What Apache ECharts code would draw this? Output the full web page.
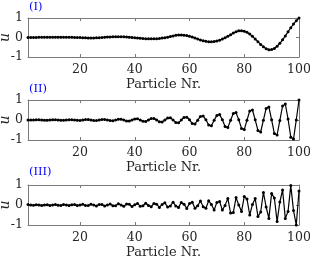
<!DOCTYPE html>
<html><head><meta charset="utf-8">
<script src="https://cdn.jsdelivr.net/npm/echarts@6/dist/echarts.min.js"></script>
<style>html,body{margin:0;padding:0;background:#fff}#c{width:310px;height:258px}</style>
</head><body><div id="c"></div>
<script>
const u1=[0.002,0.003,0.004,0.006,0.008,0.009,0.011,0.012,0.013,0.014,
0.015,0.015,0.015,0.014,0.012,0.01,0.007,0.004,0,-0.004,
-0.012,-0.018,-0.022,-0.022,-0.02,-0.015,-0.008,0.001,0.011,0.02,
0.028,0.034,0.038,0.04,0.039,0.035,0.028,0.018,0.006,-0.008,
-0.022,-0.036,-0.049,-0.059,-0.067,-0.07,-0.068,-0.061,-0.048,-0.03,
-0.01,0.015,0.045,0.08,0.11,0.128,0.13,0.12,0.098,0.066,
0.02,-0.028,-0.077,-0.124,-0.166,-0.198,-0.217,-0.22,-0.206,-0.176,
-0.135,-0.078,-0.01,0.065,0.145,0.225,0.295,0.34,0.35,0.325,
0.265,0.175,0.06,-0.075,-0.215,-0.355,-0.48,-0.575,-0.625,-0.62,
-0.56,-0.45,-0.3,-0.12,0.08,0.29,0.5,0.69,0.86,1.0];
const u2=[-0.005,-0.005,0,0.01,0.01,0,-0.01,-0.01,0,0.01,
0.01,0,-0.01,-0.015,0,0.015,0.015,0,-0.015,-0.02,
0,0.02,0.02,0,-0.02,-0.025,0,0.025,0.03,0,
-0.03,-0.035,0,0.035,0.04,0,-0.045,-0.05,0,0.05,
0.06,0,-0.06,-0.07,0,0.07,0.08,0.005,-0.09,-0.1,
0,0.1,0.11,0.005,-0.12,-0.14,0,0.13,0.14,0.01,
-0.17,-0.2,-0.01,0.18,0.2,0.01,-0.25,-0.29,-0.01,0.23,
0.27,0.01,-0.32,-0.38,-0.01,0.33,0.37,0.01,-0.42,-0.48,
-0.01,0.45,0.5,0.01,-0.52,-0.6,-0.01,0.58,0.65,0.01,
-0.68,-0.75,-0.02,0.7,0.8,0.05,-0.86,-0.95,0,1.0];
const u3=[0.02,-0.005,-0.015,0.015,0.005,-0.02,0.005,0.015,-0.02,-0.005,
0.025,-0.01,-0.02,0.025,0.005,-0.03,0.015,0.02,-0.03,-0.005,
0.035,-0.02,-0.025,0.04,0,-0.045,0.025,0.03,-0.05,0,
0.05,-0.035,-0.035,0.06,0,-0.065,0.05,0.04,-0.08,0.01,
0.08,-0.06,-0.04,0.09,-0.02,-0.09,0.08,0.04,-0.12,0.03,
0.11,-0.1,-0.05,0.14,-0.05,-0.12,0.13,0.04,-0.17,0.07,
0.14,-0.16,-0.04,0.2,-0.09,-0.16,0.21,0.03,-0.25,0.13,
0.17,-0.25,-0.02,0.33,-0.4,-0.38,0.37,0,-0.33,0.42,
0.3,-0.5,0.03,0.33,-0.58,-0.35,0.63,-0.1,-0.67,0.58,
0.35,-0.83,0.15,0.75,-0.67,-0.32,0.97,-0.28,-1.0,0.7];
const xTicks=[20,40,60,80,100];
const yTicks=[-1,0,1];
const panelLabels=['(I)','(II)','(III)'];
const xName='Particle Nr.';
const yName='u';

const series=[u1,u2,u3];
const tops=[18,100,185];
const heights=[39,40,40];
const labelTops=[1,83,166];
const axisColor='#7a7a7a';
const textColor='#262626';
const serif="DejaVu Serif";

const grid=[],xAxis=[],yAxis=[],ser=[],title=[];
series.forEach((u,i)=>{
  grid.push({left:28,right:11,top:tops[i],height:heights[i],containLabel:false,outerBoundsMode:'none'});
  const tick={show:true,inside:true,length:3,lineStyle:{color:axisColor},customValues:xTicks};
  xAxis.push({gridIndex:i,type:'value',min:1,max:100,position:'bottom',
    axisLine:{show:true,onZero:false,lineStyle:{color:axisColor,width:1}},
    axisTick:tick,splitLine:{show:false},
    axisLabel:{show:true,customValues:xTicks,margin:6,color:textColor,fontSize:12.5,fontFamily:serif},
    name:xName,nameLocation:'middle',nameGap:21,nameMoveOverlap:false,
    nameTextStyle:{color:textColor,fontSize:13,fontFamily:serif}});
  xAxis.push({gridIndex:i,type:'value',min:1,max:100,position:'top',
    axisLine:{show:true,onZero:false,lineStyle:{color:axisColor,width:1}},
    axisTick:tick,splitLine:{show:false},axisLabel:{show:false}});
  const ytick={show:true,inside:true,length:3,lineStyle:{color:axisColor},customValues:yTicks};
  yAxis.push({gridIndex:i,type:'value',min:-1,max:1,position:'left',
    axisLine:{show:true,onZero:false,lineStyle:{color:axisColor,width:1}},
    axisTick:ytick,splitLine:{show:false},
    axisLabel:{show:true,customValues:yTicks,margin:5,color:textColor,fontSize:12.5,fontFamily:serif},
    name:yName,nameLocation:'middle',nameGap:16,nameRotate:90,nameMoveOverlap:false,
    nameTextStyle:{color:textColor,fontSize:14,fontFamily:serif,fontStyle:'italic'}});
  yAxis.push({gridIndex:i,type:'value',min:-1,max:1,position:'right',
    axisLine:{show:true,onZero:false,lineStyle:{color:axisColor,width:1}},
    axisTick:ytick,splitLine:{show:false},axisLabel:{show:false}});
  ser.push({type:'line',xAxisIndex:2*i,yAxisIndex:2*i,
    data:u.map((v,k)=>[k+1,v]),symbol:'circle',symbolSize:3,showSymbol:true,
    itemStyle:{color:'#000'},lineStyle:{color:'#000',width:1.2},clip:true,silent:true});
  title.push({text:panelLabels[i],left:29,top:labelTops[i],padding:0,
    textStyle:{color:'#0000ff',fontSize:11.5,fontWeight:'normal',fontFamily:serif}});
});

const chart=echarts.init(document.getElementById('c'),null,{renderer:'canvas'});
chart.setOption({animation:false,backgroundColor:'#fff',title,grid,xAxis,yAxis,series:ser});
</script></body></html>
